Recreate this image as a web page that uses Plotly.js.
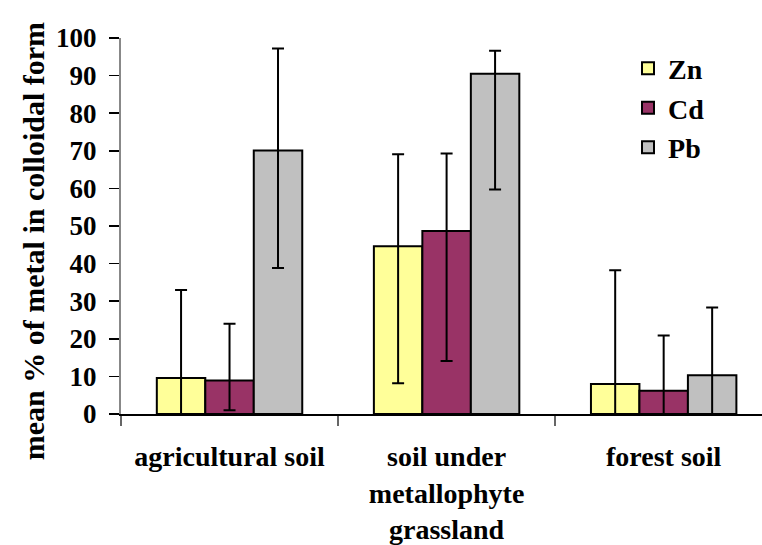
<!DOCTYPE html>
<html>
<head>
<meta charset="utf-8">
<script src="https://cdn.plot.ly/plotly-3.0.1.min.js"></script>
<style>html,body{margin:0;padding:0;background:#fff;}</style>
</head>
<body>
<div id="chart" style="width:762px;height:545px;"></div>
<script>
const categories = ["agricultural soil", "soil under<br>metallophyte<br>grassland", "forest soil"];
const seriesNames = ["Zn", "Cd", "Pb"];

const znMean = [9.6, 44.6, 8.0];
const znUpper = [33.0, 69.1, 38.2];
const znLower = [0, 8.2, 0];

const cdMean = [8.9, 48.7, 6.2];
const cdUpper = [24.0, 69.3, 20.9];
const cdLower = [1.0, 14.1, 0];

const pbMean = [70.1, 90.5, 10.3];
const pbUpper = [97.2, 96.6, 28.3];
const pbLower = [38.8, 59.7, 0];

const yTickVals = [0, 10, 20, 30, 40, 50, 60, 70, 80, 90, 100];
const yTitle = "mean % of metal in colloidal form";

const colors = ["#FFFF99", "#993366", "#C0C0C0"];
const FONT = "'Liberation Serif', 'Times New Roman', serif";

function mkTrace(name, mean, upper, lower, color, idx) {
  return {
    type: "bar",
    name: name,
    x: categories,
    y: mean,
    legendgroup: "g" + idx,
    marker: {color: color, line: {color: "#000", width: 2}},
    error_y: {
      type: "data",
      symmetric: false,
      array: upper.map((u, i) => u - mean[i]),
      arrayminus: lower.map((l, i) => mean[i] - l),
      color: "#000",
      thickness: 2,
      width: 6
    }
  };
}

const data = [
  mkTrace(seriesNames[0], znMean, znUpper, znLower, colors[0], 0),
  mkTrace(seriesNames[1], cdMean, cdUpper, cdLower, colors[1], 1),
  mkTrace(seriesNames[2], pbMean, pbUpper, pbLower, colors[2], 2)
];

const layout = {
  width: 762,
  height: 545,
  margin: {l: 120.5, r: 0, t: 38.3, b: 130.7, pad: 0},
  paper_bgcolor: "#fff",
  plot_bgcolor: "#fff",
  barmode: "group",
  bargap: 0.33,
  bargroupgap: 0,
  font: {family: FONT, color: "#000", size: 27, weight: "bold"},
  showlegend: true,
  legend: {
    x: 0.791, y: 0.985, xanchor: "left", yanchor: "top",
    font: {family: FONT, size: 28, weight: "bold", color: "#000"},
    tracegroupgap: 8,
    traceorder: "normal",
    bgcolor: "rgba(0,0,0,0)",
    itemwidth: 30
  },
  xaxis: {
    type: "category",
    range: [-0.5, 2.453],
    showline: true, linecolor: "#000", linewidth: 1.5,
    ticks: "outside", tickson: "boundaries", ticklen: 10, tickcolor: "#666", tickwidth: 1.5,
    tickfont: {family: FONT, size: 28, weight: "bold", color: "#000"},
    ticklabelstandoff: 17,
    showgrid: false, zeroline: false, fixedrange: true
  },
  yaxis: {
    range: [0, 100],
    tickvals: yTickVals,
    showline: true, linecolor: "#888", linewidth: 2,
    ticks: "outside", ticklen: 10, tickcolor: "#000", tickwidth: 1.5,
    tickfont: {family: FONT, size: 27, weight: "bold", color: "#000"},
    ticklabelstandoff: 7,
    showgrid: false, zeroline: false, fixedrange: true
  },
  annotations: [{
    text: yTitle,
    textangle: -90,
    xref: "paper", yref: "paper",
    x: -0.137, y: 0.46,
    xanchor: "center", yanchor: "middle",
    showarrow: false,
    font: {family: FONT, size: 30, weight: "bold", color: "#000"}
  }]
};

Plotly.newPlot("chart", data, layout, {displayModeBar: false, staticPlot: true});
</script>
</body>
</html>
